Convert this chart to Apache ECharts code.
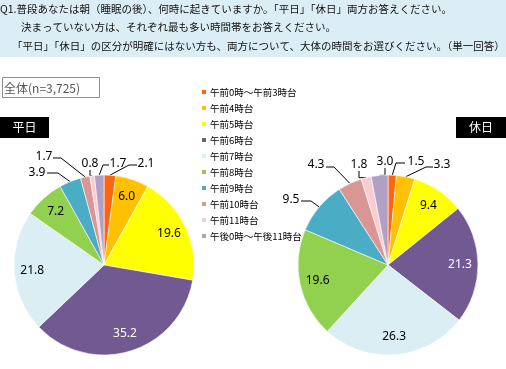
<!DOCTYPE html>
<html><head><meta charset="utf-8">
<script src="https://cdn.jsdelivr.net/npm/echarts@6/dist/echarts.min.js"></script>
<style>html,body{margin:0;padding:0;background:#fff}#c{width:506px;height:369px}</style>
</head><body><div id="c"></div>
<script>
// ---- data ----
const categories = ['午前0時～午前3時台','午前4時台','午前5時台','午前6時台','午前7時台','午前8時台','午前9時台','午前10時台','午前11時台','午後0時～午後11時台'];
const weekdayValues = [2.1, 6.0, 19.6, 35.2, 21.8, 7.2, 3.9, 1.7, 0.8, 1.7];
const holidayValues = [1.5, 3.3, 9.4, 21.3, 26.3, 19.6, 9.5, 4.3, 1.8, 3.0];
const weekdayInside = [1, 2, 3, 4, 5];
const holidayInside = [2, 3, 4, 5];
const whiteLabels = [3];
const titleLines = [
  'Q1.普段あなたは朝（睡眠の後）、何時に起きていますか。「平日」「休日」両方お答えください。',
  '決まっていない方は、それぞれ最も多い時間帯をお答えください。',
  '「平日」「休日」の区分が明確にはない方も、両方について、大体の時間をお選びください。（単一回答）'
];
const sampleLabel = '全体(n=3,725)';
const panelNames = ['平日', '休日'];

// ---- style / layout ----
const colors = ['#FF6410','#FFC000','#FFFF00','#715A91','#DAEEF3','#92D050','#4BACC6','#D99694','#F6CDD2','#B1A0C6'];
const CW = [104, 265], CH = [388, 265], R = 90, INNER = 72;
const weekdayOutside = {
  0: {x: 146, y: 164, line: [[129, 165], [137, 165]]},
  9: {x: 118, y: 164, line: [[103, 165], [109, 165]]},
  8: {x: 90, y: 164},
  7: {x: 44, y: 157, line: [[61, 158], [53, 158]]},
  6: {x: 37, y: 173, line: [[58, 173], [47, 173]]}
};
const holidayOutside = {
  0: {x: 416, y: 162, line: [[396, 163], [405, 163]]},
  1: {x: 442, y: 165, line: [[426, 167], [433, 167]]},
  9: {x: 385, y: 162},
  8: {x: 359, y: 165},
  7: {x: 316, y: 165, line: [[334, 167], [326, 167]]},
  6: {x: 291, y: 200, line: [[311, 201], [301, 201]]}
};

function buildData(values, insideIdx) {
  return values.map((v, i) => {
    const inside = insideIdx.indexOf(i) >= 0;
    return {
      name: categories[i], value: v,
      label: {position: inside ? 'inside' : 'outside', color: whiteLabels.indexOf(i) >= 0 && inside ? '#fff' : '#000'},
      labelLine: {show: !inside}
    };
  });
}
function layoutFor(p, c, map) {
  const o = map[p.dataIndex];
  if (o) {
    const res = {x: o.x, y: o.y, align: 'center', verticalAlign: 'middle'};
    if (o.line && p.labelLinePoints) res.labelLinePoints = [p.labelLinePoints[0], o.line[0], o.line[1]];
    return res;
  }
  const r = p.labelRect;
  const lx = r.x + r.width / 2, ly = r.y + r.height / 2;
  const dx = lx - c[0], dy = ly - c[1];
  const d = Math.hypot(dx, dy) || 1;
  return {x: c[0] + dx * INNER / d, y: c[1] + dy * INNER / d, align: 'center', verticalAlign: 'middle'};
}
function pieSeries(values, insideIdx, center, map) {
  return {
    type: 'pie', center: center, radius: R, startAngle: 90, clockwise: true,
    avoidLabelOverlap: false,
    itemStyle: {borderColor: '#fff', borderWidth: 0.6},
    label: {
      formatter: p => p.value.toFixed(1),
      fontFamily: 'Noto Sans', fontSize: 12
    },
    labelLine: {lineStyle: {color: '#000', width: 1}, length: 8, length2: 8},
    labelLayout: p => layoutFor(p, center, map),
    emphasis: {disabled: true},
    data: buildData(values, insideIdx)
  };
}

const chart = echarts.init(document.getElementById('c'), null, {renderer: 'canvas'});
const graphics = [
  {type: 'rect', shape: {x: 0, y: 0, width: 506, height: 57}, style: {fill: '#DCEEF5'}, z: 0},
  {type: 'text', x: 0, y: 9, style: {text: titleLines[0], fontSize: 10.5, fontFamily: 'Noto Sans CJK JP', fill: '#111', verticalAlign: 'middle'}},
  {type: 'text', x: 21, y: 27, style: {text: titleLines[1], fontSize: 10.5, fontFamily: 'Noto Sans CJK JP', fill: '#111', verticalAlign: 'middle'}},
  {type: 'text', x: 12, y: 46, style: {text: titleLines[2], fontSize: 10.5, fontFamily: 'Noto Sans CJK JP', fill: '#111', verticalAlign: 'middle'}},
  {type: 'rect', shape: {x: 2.5, y: 77.5, width: 97, height: 20}, style: {fill: '#fff', stroke: '#8c8c8c', lineWidth: 1}},
  {type: 'text', x: 4, y: 88, style: {text: sampleLabel, fontSize: 12, fontFamily: 'Noto Sans CJK JP', fill: '#555', verticalAlign: 'middle'}},
  {type: 'rect', shape: {x: 0, y: 117, width: 49, height: 21}, style: {fill: '#000'}},
  {type: 'text', x: 24.5, y: 127.5, style: {text: panelNames[0], fontSize: 12, fontFamily: 'Noto Sans CJK JP', fill: '#fff', align: 'center', verticalAlign: 'middle'}},
  {type: 'rect', shape: {x: 456, y: 117, width: 50, height: 21}, style: {fill: '#000'}},
  {type: 'text', x: 481, y: 127.5, style: {text: panelNames[1], fontSize: 12, fontFamily: 'Noto Sans CJK JP', fill: '#fff', align: 'center', verticalAlign: 'middle'}}
];
chart.setOption({
  animation: false,
  color: colors,
  legend: {
    orient: 'vertical', left: 195, top: 81, itemWidth: 6, itemHeight: 6, itemGap: 4,
    icon: 'rect', selectedMode: false,
    textStyle: {fontSize: 9.5, fontFamily: 'Noto Sans CJK JP', color: '#000', lineHeight: 12, padding: [0, 0, 0, -2]},
    data: categories
  },
  graphic: graphics,
  series: [
    pieSeries(weekdayValues, weekdayInside, CW, weekdayOutside),
    pieSeries(holidayValues, holidayInside, CH, holidayOutside)
  ]
});
</script>
</body></html>
